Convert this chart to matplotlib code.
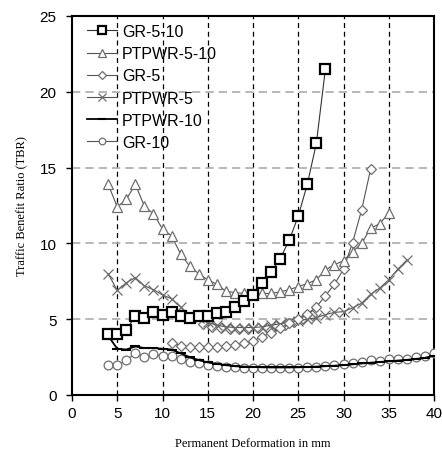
import matplotlib
matplotlib.use("Agg")
import matplotlib.pyplot as plt
import numpy as np

# ---- data ----
x_gr510 = list(range(4, 29))
y_gr510 = [4.0, 4.0, 4.3, 5.2, 5.1, 5.5, 5.3, 5.5, 5.2, 5.1, 5.2, 5.2, 5.4, 5.45, 5.8,
           6.2, 6.6, 7.4, 8.1, 9.0, 10.2, 11.8, 13.9, 16.6, 21.5]

x_pt510 = list(range(4, 36))
y_pt510 = [13.9, 12.4, 12.9, 13.9, 12.45, 11.95, 10.95, 10.5, 9.3, 8.5, 8.0, 7.6, 7.3,
           6.85, 6.75, 6.7, 6.66, 6.7, 6.7, 6.8, 6.95, 7.15, 7.35, 7.6, 8.25, 8.6, 8.85,
           9.45, 10.0, 11.0, 11.3, 12.0]

x_gr5 = list(range(11, 34))
y_gr5 = [3.45, 3.25, 3.15, 3.15, 3.15, 3.15, 3.2, 3.3, 3.4, 3.55, 3.85, 4.1, 4.4, 4.75,
         5.0, 5.35, 5.8, 6.55, 7.3, 8.3, 10.05, 12.2, 14.9]

x_gr5b = [14.5, 15.5, 16.5, 17.5, 18.5, 19.5, 20.5, 21.5, 22.5, 23.5, 24.5, 25.5, 26.5]
y_gr5b = [4.7, 4.5, 4.4, 4.35, 4.35, 4.35, 4.4, 4.45, 4.55, 4.65, 4.8, 5.0, 5.3]

x_pt5 = list(range(4, 38))
y_pt5 = [8.0, 6.9, 7.4, 7.75, 7.2, 6.95, 6.6, 6.35, 5.8, 5.2, 5.1, 4.8, 4.6, 4.5, 4.45,
         4.45, 4.45, 4.5, 4.6, 4.7, 4.8, 4.9, 5.0, 5.1, 5.3, 5.45, 5.5, 5.75, 6.05, 6.65,
         7.05, 7.6, 8.3, 8.9]

x_pt10 = list(range(4, 41))
y_pt10 = [3.9, 3.05, 3.0, 3.2, 3.1, 3.1, 3.05, 3.0, 2.75, 2.5, 2.3, 2.15, 2.05, 1.97,
          1.9, 1.87, 1.85, 1.83, 1.82, 1.82, 1.82, 1.83, 1.85, 1.87, 1.9, 1.93, 1.97,
          2.02, 2.08, 2.13, 2.18, 2.22, 2.27, 2.32, 2.38, 2.45, 2.6]

x_gr10 = list(range(4, 41))
y_gr10 = [1.95, 1.95, 2.3, 2.75, 2.5, 2.7, 2.55, 2.6, 2.35, 2.2, 2.1, 2.0, 1.9, 1.85,
          1.82, 1.8, 1.78, 1.78, 1.78, 1.78, 1.78, 1.8, 1.82, 1.87, 1.93, 1.97, 2.02,
          2.09, 2.2, 2.3, 2.27, 2.35, 2.36, 2.37, 2.5, 2.6, 2.78]

x_ticks = [0, 5, 10, 15, 20, 25, 30, 35, 40]
y_ticks = [0, 5, 10, 15, 20, 25]

# ---- figure ----
fig = plt.figure(figsize=(4.42, 4.52), dpi=100)
ax = fig.add_axes([72/442, 1-396/452, 362/442, 379/452])

ax.set_xlim(0, 40)
ax.set_ylim(0, 25)
ax.set_xticks(x_ticks)
ax.set_yticks(y_ticks)

for v in x_ticks[1:-1]:
    ax.axvline(v, color='black', lw=0.9, dashes=(4, 3), zorder=1)
for v in y_ticks[1:-1]:
    ax.axhline(v, color='#ababab', lw=1.2, dashes=(5, 3), zorder=1)

gray = '#6e6e6e'
lc = '#555555'
ax.plot(x_gr10, y_gr10, color=lc, lw=0.8, marker='o', ms=6.3, mfc='white',
        mec=gray, mew=0.9, label='GR-10', zorder=3)
ax.plot(x_pt10, y_pt10, color='black', lw=1.3, marker='_', ms=7, mec='black',
        mew=1.5, label='PTPWR-10', zorder=4)
ax.plot(x_gr5b, y_gr5b, color=lc, lw=0.6, marker='D', ms=5.2, mfc='white',
        mec=gray, mew=0.9, zorder=3)
ax.plot(x_pt5, y_pt5, color=lc, lw=0.8, marker='x', ms=7, mec=gray, mew=0.9,
        label='PTPWR-5', zorder=4)
ax.plot(x_gr5, y_gr5, color=lc, lw=0.8, marker='D', ms=5.2, mfc='white',
        mec=gray, mew=0.9, label='GR-5', zorder=4)
ax.plot(x_pt510, y_pt510, color=lc, lw=0.8, marker='^', ms=7.5, mfc='white',
        mec=gray, mew=0.9, label='PTPWR-5-10', zorder=4)
ax.plot(x_gr510, y_gr510, color='#333333', lw=0.8, marker='s', ms=7, mfc='white',
        mec='black', mew=1.6, label='GR-5-10', zorder=5)

tickfont = {'family': ['Liberation Sans', 'DejaVu Sans'], 'size': 11}
ax.set_xticklabels([str(t) for t in x_ticks], fontdict=tickfont)
ax.set_yticklabels([str(t) for t in y_ticks], fontdict=tickfont)
ax.tick_params(direction='out', length=4, width=1, color='black')
ax.tick_params(axis='y', pad=7)
ax.tick_params(axis='x', pad=4)

for s in ax.spines.values():
    s.set_linewidth(1.5)
    s.set_color('black')

ax.set_xlabel('Permanent Deformation in mm', family=['Liberation Serif', 'DejaVu Serif'],
              fontsize=9, labelpad=12)
ax.set_ylabel('Traffic Benefit Ratio (TBR)', family=['Liberation Serif', 'DejaVu Serif'],
              fontsize=9, labelpad=8)

handles, labels = ax.get_legend_handles_labels()
order = ['GR-5-10', 'PTPWR-5-10', 'GR-5', 'PTPWR-5', 'PTPWR-10', 'GR-10']
hmap = dict(zip(labels, handles))
leg = ax.legend([hmap[k] for k in order], order, loc='upper left',
                bbox_to_anchor=(15/362, 1 - 8/379), frameon=False,
                prop={'family': ['Liberation Sans', 'DejaVu Sans'], 'size': 11.5},
                handlelength=1.85, handletextpad=0.35, labelspacing=0.45,
                borderpad=0, borderaxespad=0, markerscale=0.75)

fig.savefig('out.png', dpi=100)
